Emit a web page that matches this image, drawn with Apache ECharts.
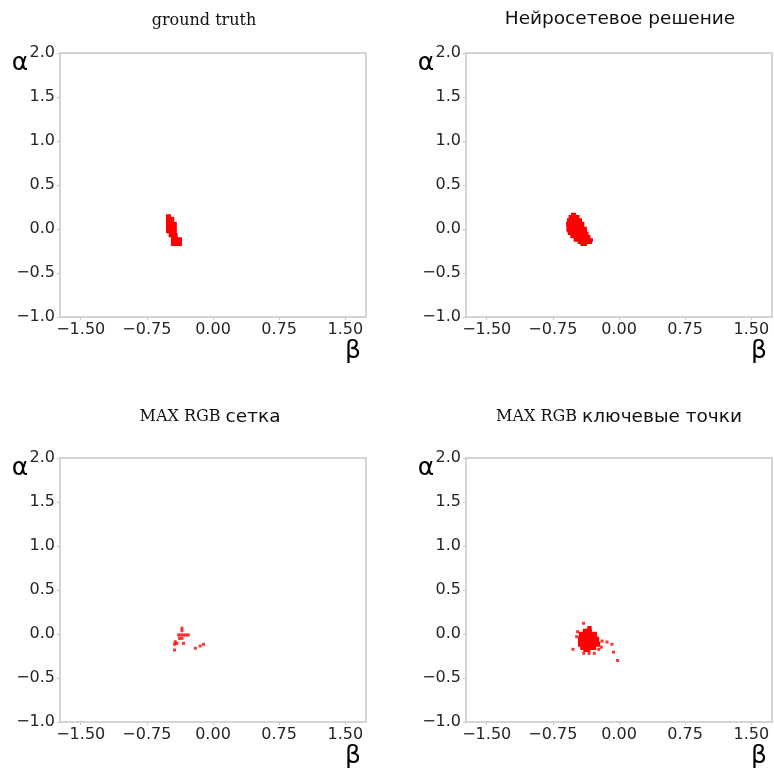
<!DOCTYPE html>
<html>
<head>
<meta charset="utf-8">
<script src="https://cdn.jsdelivr.net/npm/echarts@6/dist/echarts.min.js"></script>
<style>
  html, body { margin: 0; padding: 0; background: #ffffff; }
  #chart { width: 774px; height: 772px; }
</style>
</head>
<body>
<div id="chart"></div>
<script>
// Axis ticks shared by all four panels
const betaTicks = [-1.5, -0.75, 0, 0.75, 1.5];
const betaRange = [-1.735, 1.735];
const alphaRange = [-1, 2];
const alphaStep = 0.5;

// Panel titles: [serif part, sans part]
const panelTitles = [
  ['ground truth', ''],
  ['', 'Нейросетевое решение'],
  ['MAX RGB ', 'сетка'],
  ['MAX RGB ', 'ключевые точки']
];

// Filled regions as horizontal runs, top to bottom: [betaFrom, betaTo, alphaFrom, alphaTo]
const groundTruthRuns = [
  [-0.533, -0.477, 0.140, 0.167],
  [-0.533, -0.440, 0.083, 0.140],
  [-0.533, -0.410, -0.049, 0.083],
  [-0.503, -0.400, -0.094, -0.049],
  [-0.477, -0.352, -0.193, -0.094]
];

const networkRuns = [
  [-0.545, -0.485, 0.159, 0.185],
  [-0.572, -0.447, 0.121, 0.159],
  [-0.590, -0.419, 0.083, 0.121],
  [-0.600, -0.393, 0.026, 0.083],
  [-0.597, -0.363, -0.031, 0.026],
  [-0.582, -0.345, -0.068, -0.031],
  [-0.552, -0.324, -0.106, -0.068],
  [-0.514, -0.295, -0.144, -0.106],
  [-0.469, -0.306, -0.170, -0.144],
  [-0.439, -0.363, -0.193, -0.170]
];

// Isolated maxima found on the grid search
const gridPoints = [
  [-0.352, 0.065], [-0.352, 0.037],
  [-0.390, -0.011], [-0.362, -0.011], [-0.334, -0.011], [-0.306, -0.011], [-0.280, -0.011],
  [-0.380, -0.049], [-0.350, -0.049],
  [-0.428, -0.088], [-0.409, -0.106], [-0.436, -0.117], [-0.436, -0.182],
  [-0.334, -0.106],
  [-0.200, -0.162], [-0.145, -0.136], [-0.107, -0.117]
];

// Keypoint solutions: dense core plus scattered points
const keypointRuns = [
  [-0.360, -0.310, 0.060, 0.090],
  [-0.410, -0.307, 0.026, 0.060],
  [-0.456, -0.250, -0.031, 0.026],
  [-0.465, -0.224, -0.088, -0.031],
  [-0.465, -0.213, -0.144, -0.088],
  [-0.440, -0.258, -0.182, -0.144],
  [-0.405, -0.325, -0.205, -0.182]
];

const keypointPoints = [
  [-0.402, 0.122], [-0.470, 0.026], [-0.522, -0.174], [-0.480, -0.030],
  [-0.193, -0.080], [-0.136, -0.091], [-0.080, -0.117], [-0.200, -0.150],
  [-0.062, -0.206], [-0.016, -0.301],
  [-0.400, -0.220], [-0.340, -0.220], [-0.280, -0.220], [-0.230, -0.175]
];

// Panel placement in pixels, with title centre positions
const panels = [
  { left: 60, top: 53, titleX: 204, titleY: 21 },
  { left: 466, top: 53, titleX: 620, titleY: 19 },
  { left: 60, top: 458, titleX: 210, titleY: 417 },
  { left: 466, top: 458, titleX: 619, titleY: 417 }
];
const panelW = 306, panelH = 264;

const frameColor = '#c8c8c8';
const textColor = '#262626';

function signed(v, digits) {
  const s = Math.abs(v).toFixed(digits);
  return v < 0 ? '\u2212' + s : s;
}

// A stack of runs is outlined as one staircase polygon:
// down the left edges, then back up the right edges.
function runSeries(idx, runs) {
  return {
    type: 'custom', xAxisIndex: idx, yAxisIndex: idx, clip: true, silent: true,
    encode: { x: [0, 1], y: [2, 3] },
    data: runs,
    renderItem: function (params, api) {
      if (params.dataIndex !== 0) return null;
      const pts = [];
      runs.forEach(r => {
        pts.push(api.coord([r[0], r[3]]), api.coord([r[0], r[2]]));
      });
      for (let k = runs.length - 1; k >= 0; k--) {
        const r = runs[k];
        pts.push(api.coord([r[1], r[2]]), api.coord([r[1], r[3]]));
      }
      return {
        type: 'polygon',
        shape: { points: pts },
        style: { fill: '#ff0000' }
      };
    }
  };
}

const pointSeries = (idx, data) => ({
  type: 'scatter', xAxisIndex: idx, yAxisIndex: idx, symbol: 'rect', symbolSize: 3,
  itemStyle: { color: '#ff0000' }, data: data, silent: true
});

const grid = [], xAxis = [], yAxis = [], graphic = [];

panels.forEach((p, i) => {
  grid.push({
    left: p.left, top: p.top, width: panelW, height: panelH,
    show: true, borderColor: frameColor, borderWidth: 1.5, backgroundColor: 'transparent'
  });
  xAxis.push({
    gridIndex: i, type: 'value', min: betaRange[0], max: betaRange[1],
    axisLine: { show: false, onZero: false }, splitLine: { show: false },
    axisTick: { show: true, customValues: betaTicks, length: 3, lineStyle: { color: frameColor } },
    axisLabel: {
      customValues: betaTicks, margin: 5, fontSize: 16, color: textColor,
      fontFamily: 'DejaVu Sans', formatter: v => signed(v, 2)
    }
  });
  yAxis.push({
    gridIndex: i, type: 'value', min: alphaRange[0], max: alphaRange[1], interval: alphaStep,
    axisLine: { show: false, onZero: false }, splitLine: { show: false },
    axisTick: { show: true, length: 3, lineStyle: { color: frameColor } },
    axisLabel: {
      margin: 5, fontSize: 16, color: textColor,
      fontFamily: 'DejaVu Sans', formatter: v => signed(v, 1)
    }
  });

  const t = panelTitles[i];
  graphic.push({
    type: 'text',
    style: {
      x: p.titleX, y: p.titleY,
      text: (t[0] ? '{s|' + t[0] + '}' : '') + (t[1] ? '{n|' + t[1] + '}' : ''),
      align: 'center', verticalAlign: 'middle',
      rich: {
        s: { fontFamily: 'DejaVu Serif', fontSize: 16, fill: '#111' },
        n: { fontFamily: 'DejaVu Sans', fontSize: 18.5, fill: '#111' }
      }
    }
  });
  graphic.push({
    type: 'text',
    style: {
      x: p.left - 40, y: p.top + 10, text: 'α',
      fontFamily: 'DejaVu Sans', fontSize: 25, fill: '#000',
      align: 'center', verticalAlign: 'middle'
    }
  });
  graphic.push({
    type: 'text',
    style: {
      x: p.left + panelW - 13, y: p.top + panelH + 34, text: 'β',
      fontFamily: 'DejaVu Sans', fontSize: 25, fill: '#000',
      align: 'center', verticalAlign: 'middle'
    }
  });
});

const chart = echarts.init(document.getElementById('chart'), null, { renderer: 'canvas' });
chart.setOption({
  animation: false,
  backgroundColor: '#ffffff',
  grid, xAxis, yAxis, graphic,
  series: [
    runSeries(0, groundTruthRuns),
    runSeries(1, networkRuns),
    pointSeries(2, gridPoints),
    runSeries(3, keypointRuns),
    pointSeries(3, keypointPoints)
  ]
});
</script>
</body>
</html>
